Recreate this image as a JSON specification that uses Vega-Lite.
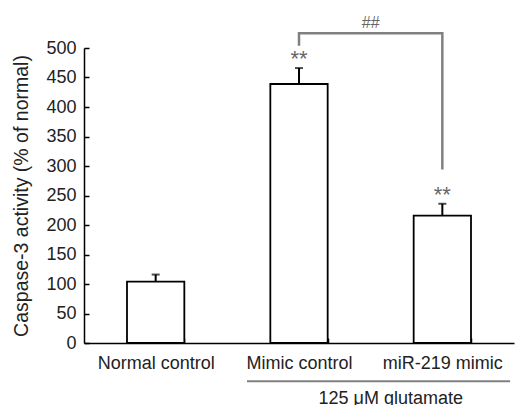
{
  "$schema": "https://vega.github.io/schema/vega-lite/v6.json",
  "width": 430,
  "height": 295,
  "autosize": "none",
  "padding": {"left": 84, "top": 48, "right": 3, "bottom": 62},
  "background": "white",
  "config": {
    "view": {"stroke": null},
    "font": "Liberation Sans",
    "axis": {
      "domainColor": "black",
      "domainWidth": 1.5,
      "tickColor": "black",
      "tickWidth": 1.5,
      "ticks": true,
      "labelFont": "Liberation Sans",
      "labelFontSize": 18,
      "labelColor": "#222",
      "titleFont": "Liberation Sans",
      "titleFontWeight": "normal",
      "titleColor": "#222",
      "grid": false
    }
  },
  "datasets": {
    "bars": [
      {"group": "Normal control", "value": 104, "upper": 116},
      {"group": "Mimic control", "value": 439, "upper": 466},
      {"group": "miR-219 mimic", "value": 216, "upper": 236}
    ],
    "bracket": [
      {"pos": 1.5, "y": 504, "order": 1},
      {"pos": 1.5, "y": 525, "order": 2},
      {"pos": 2.5, "y": 525, "order": 3},
      {"pos": 2.5, "y": 294, "order": 4}
    ],
    "marks": [
      {"pos": 1.5, "y": 469, "label": "**"},
      {"pos": 2.5, "y": 239, "label": "**"}
    ],
    "hash": [
      {"pos": 2.0, "y": 534, "label": "##"}
    ],
    "glu_line": [
      {"pos": 1.137, "pos2": 2.973, "y": -65}
    ],
    "glu_text": [
      {"pos": 2.14, "y": -104, "label": "125 μM glutamate"}
    ]
  },
  "layer": [
    {
      "data": {"name": "bars"},
      "layer": [
        {
          "mark": {"type": "bar", "fill": "white", "stroke": "black", "strokeWidth": 1.8},
          "encoding": {
            "x": {
              "field": "group", "type": "nominal",
              "sort": ["Normal control", "Mimic control", "miR-219 mimic"],
              "scale": {"paddingInner": 0.6, "paddingOuter": 0.3},
              "axis": {"title": null, "labelAngle": 0, "labelPadding": 16, "tickBand": "extent", "tickSize": -5}
            },
            "y": {"field": "value", "type": "quantitative", "scale": {"domain": [0, 500], "nice": false},
              "axis": {
                "title": "Caspase-3 activity (% of normal)",
                "values": [0, 50, 100, 150, 200, 250, 300, 350, 400, 450, 500],
                "labelOverlap": false,
                "labelFlush": false,
                "tickSize": -5,
                "labelPadding": 13,
                "titleFontSize": 19.5,
                "titlePadding": 14
              }}
          }
        },
        {
          "mark": {"type": "rule", "color": "black", "strokeWidth": 2},
          "encoding": {
            "x": {"field": "group", "type": "nominal", "sort": ["Normal control", "Mimic control", "miR-219 mimic"], "axis": null},
            "y": {"field": "value", "type": "quantitative", "scale": {"domain": [0, 500], "nice": false}, "axis": null},
            "y2": {"field": "upper"}
          }
        },
        {
          "mark": {"type": "tick", "color": "black", "thickness": 2, "size": 8},
          "encoding": {
            "x": {"field": "group", "type": "nominal", "sort": ["Normal control", "Mimic control", "miR-219 mimic"], "axis": null},
            "y": {"field": "upper", "type": "quantitative", "scale": {"domain": [0, 500], "nice": false}, "axis": null}
          }
        }
      ],
      "resolve": {"axis": {"x": "independent", "y": "independent"}}
    },
    {
      "layer": [
        {
          "data": {"name": "bracket"},
          "mark": {"type": "line", "color": "#808080", "strokeWidth": 2.5, "strokeJoin": "miter", "strokeCap": "butt"},
          "encoding": {
            "x": {"field": "pos", "type": "quantitative", "scale": {"domain": [0, 3], "nice": false, "zero": false}, "axis": null},
            "y": {"field": "y", "type": "quantitative", "scale": {"domain": [0, 500], "nice": false}, "axis": null},
            "order": {"field": "order"}
          }
        },
        {
          "data": {"name": "marks"},
          "mark": {"type": "text", "fontSize": 22, "color": "#666", "baseline": "alphabetic", "align": "center"},
          "encoding": {
            "x": {"field": "pos", "type": "quantitative", "scale": {"domain": [0, 3], "nice": false, "zero": false}, "axis": null},
            "y": {"field": "y", "type": "quantitative", "scale": {"domain": [0, 500], "nice": false}, "axis": null},
            "text": {"field": "label"}
          }
        },
        {
          "data": {"name": "hash"},
          "mark": {"type": "text", "fontSize": 16, "color": "#666", "baseline": "alphabetic", "align": "center"},
          "encoding": {
            "x": {"field": "pos", "type": "quantitative", "scale": {"domain": [0, 3], "nice": false, "zero": false}, "axis": null},
            "y": {"field": "y", "type": "quantitative", "scale": {"domain": [0, 500], "nice": false}, "axis": null},
            "text": {"field": "label"}
          }
        },
        {
          "data": {"name": "glu_line"},
          "mark": {"type": "rule", "color": "#808080", "strokeWidth": 2},
          "encoding": {
            "x": {"field": "pos", "type": "quantitative", "scale": {"domain": [0, 3], "nice": false, "zero": false}, "axis": null},
            "x2": {"field": "pos2"},
            "y": {"field": "y", "type": "quantitative", "scale": {"domain": [0, 500], "nice": false}, "axis": null}
          }
        },
        {
          "data": {"name": "glu_text"},
          "mark": {"type": "text", "fontSize": 18, "color": "#222", "baseline": "alphabetic", "align": "center"},
          "encoding": {
            "x": {"field": "pos", "type": "quantitative", "scale": {"domain": [0, 3], "nice": false, "zero": false}, "axis": null},
            "y": {"field": "y", "type": "quantitative", "scale": {"domain": [0, 500], "nice": false}, "axis": null},
            "text": {"field": "label"}
          }
        }
      ],
      "resolve": {"axis": {"y": "independent"}}
    }
  ],
  "resolve": {"scale": {"x": "independent"}, "axis": {"y": "independent"}}
}
